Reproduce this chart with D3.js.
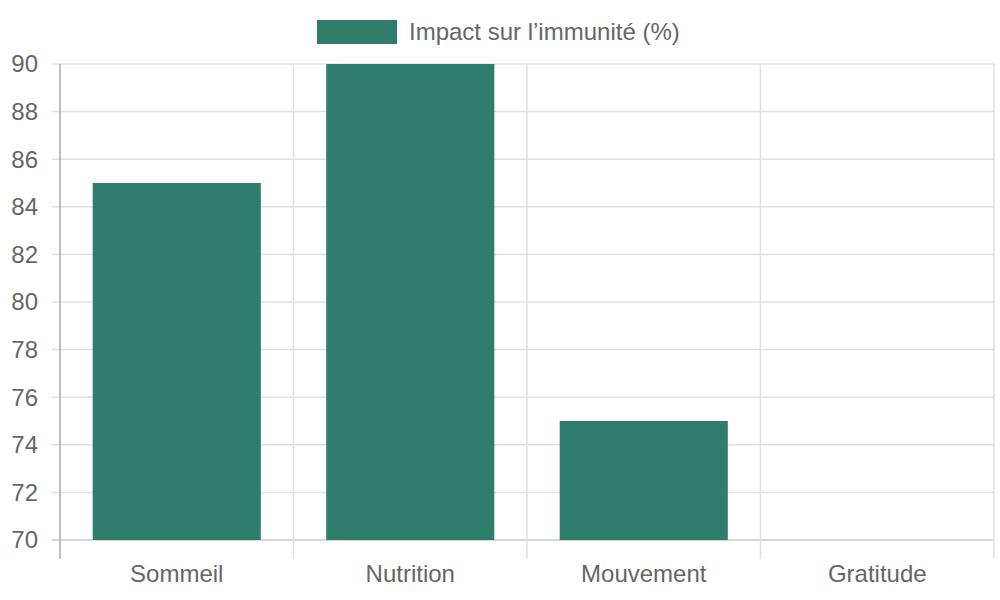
<!DOCTYPE html>
<html>
<head>
<meta charset="utf-8">
<script src="https://cdn.jsdelivr.net/npm/d3@7"></script>
<style>
  body { margin: 0; background: #fff; }
  svg text { font-family: "Liberation Sans", Arial, sans-serif; fill: #666; }
</style>
</head>
<body>
<div id="chart"></div>
<script>
const categories = ["Sommeil", "Nutrition", "Mouvement", "Gratitude"];
const values = [85, 90, 75, 65];
const seriesName = "Impact sur l\u2019immunit\u00e9 (%)";
const yTicks = [70, 72, 74, 76, 78, 80, 82, 84, 86, 88, 90];

const w = 1000;
const h = 600;
const padLeft = 60, padRight = 994, padTop = 64, padBottom = 540;
const barColor = "#2f7d6d";

const svg = d3.select("#chart").append("svg")
  .attr("width", w)
  .attr("height", h);

// scales
const x = d3.scaleBand().domain(categories).range([padLeft, padRight]).paddingInner(0).paddingOuter(0);
const y = d3.scaleLinear().domain([70, 90]).range([padBottom, padTop]);

// horizontal grid + y ticks
const yAxis = svg.append("g");
yAxis.selectAll("line.grid")
  .data(yTicks)
  .enter()
  .append("line")
  .attr("x1", padLeft - 8)
  .attr("x2", padRight)
  .attr("y1", (d) => y(d))
  .attr("y2", (d) => y(d))
  .attr("stroke", (d) => (d === 70 ? "#c8c8c8" : "#e0e0e0"))
  .attr("stroke-width", 1.5);

yAxis.selectAll("text")
  .data(yTicks)
  .enter()
  .append("text")
  .attr("x", padLeft - 22)
  .attr("y", (d) => y(d))
  .attr("dy", "0.35em")
  .attr("text-anchor", "end")
  .style("font-size", "24px")
  .text((d) => d);

// vertical grid lines at band edges
const edges = categories.map((c) => x(c)).concat([padRight]);
svg.append("g").selectAll("line")
  .data(edges)
  .enter()
  .append("line")
  .attr("x1", (d) => d)
  .attr("x2", (d) => d)
  .attr("y1", padTop)
  .attr("y2", padBottom + 19)
  .attr("stroke", (d, i) => (i === 0 ? "#ababab" : "#e0e0e0"))
  .attr("stroke-width", 1.5);

// bars (clipped at chart area)
const bw = x.bandwidth() * 0.72;
svg.append("g").selectAll("rect")
  .data(values)
  .enter()
  .append("rect")
  .attr("x", (d, i) => x(categories[i]) + (x.bandwidth() - bw) / 2)
  .attr("width", bw)
  .attr("y", (d) => y(Math.max(70, Math.min(90, d))))
  .attr("height", (d) => padBottom - y(Math.max(70, Math.min(90, d))))
  .attr("fill", barColor);

// x labels
svg.append("g").selectAll("text")
  .data(categories)
  .enter()
  .append("text")
  .attr("x", (d) => x(d) + x.bandwidth() / 2)
  .attr("y", 574)
  .attr("dy", "0.35em")
  .attr("text-anchor", "middle")
  .style("font-size", "24px")
  .text((d) => d);

// legend
const legend = svg.append("g");
legend.append("rect")
  .attr("x", 317)
  .attr("y", 20)
  .attr("width", 80)
  .attr("height", 24)
  .attr("fill", barColor);
legend.append("text")
  .attr("x", 409)
  .attr("y", 32)
  .attr("dy", "0.35em")
  .style("font-size", "24px")
  .text(seriesName);
</script>
</body>
</html>
